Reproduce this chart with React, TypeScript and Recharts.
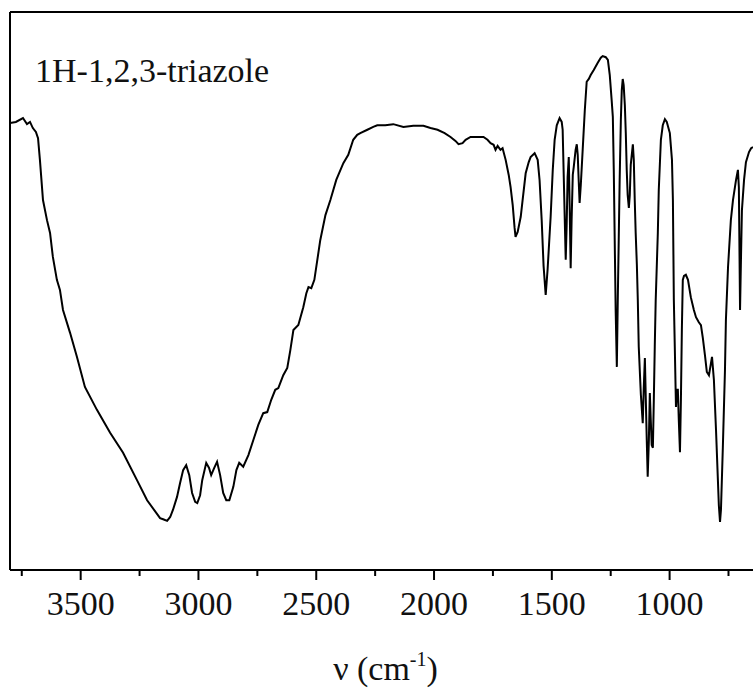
import { LineChart, Line, XAxis, YAxis, ReferenceLine } from "recharts";

// wavenumber (cm-1), high to low
const wavenumbers = [
  3800, 3775, 3745, 3728, 3715, 3703, 3690, 3681, 3673, 3660, 3643, 3630, 3618, 3601, 3588, 3575,
  3545, 3516, 3482, 3431, 3375, 3320, 3261, 3218, 3163, 3150, 3133, 3120, 3108, 3091, 3078, 3065,
  3052, 3039, 3027, 3014, 3005, 2993, 2984, 2967, 2955, 2946, 2933, 2921, 2908, 2895, 2882, 2869,
  2852, 2839, 2827, 2810, 2788, 2767, 2746, 2725, 2708, 2691, 2674, 2661, 2640, 2623, 2610, 2597,
  2576, 2555, 2542, 2533, 2521, 2508, 2483, 2461, 2440, 2415, 2385, 2364, 2343, 2326, 2313, 2283,
  2258, 2241, 2207, 2173, 2130, 2088, 2045, 2015, 1985, 1955, 1930, 1909, 1896, 1879, 1866, 1845,
  1820, 1790, 1773, 1760, 1747, 1739, 1730, 1718, 1709, 1696, 1683, 1675, 1666, 1658, 1654, 1645,
  1632, 1624, 1611, 1598, 1590, 1573, 1560, 1552, 1543, 1535, 1526, 1518, 1505, 1496, 1488, 1479,
  1467, 1458, 1454, 1450, 1445, 1441, 1437, 1433, 1428, 1424, 1420, 1416, 1411, 1407, 1399, 1394,
  1390, 1386, 1382, 1377, 1369, 1360, 1352, 1343, 1335, 1322, 1305, 1292, 1284, 1271, 1262, 1254,
  1246, 1241, 1237, 1233, 1229, 1224, 1220, 1216, 1212, 1207, 1203, 1199, 1195, 1190, 1186, 1182,
  1178, 1173, 1169, 1165, 1156, 1152, 1148, 1144, 1139, 1135, 1131, 1122, 1114, 1110, 1105, 1101,
  1097, 1093, 1088, 1084, 1080, 1076, 1071, 1067, 1063, 1059, 1050, 1046, 1037, 1029, 1020, 1012,
  999, 990, 986, 982, 978, 973, 969, 965, 961, 956, 952, 948, 944, 939, 931, 922,
  910, 897, 888, 876, 867, 859, 850, 842, 833, 820, 812, 803, 795, 791, 786, 782,
  774, 765, 761, 752, 740, 731, 718, 710, 706, 701, 697, 693, 684, 676, 663, 654,
  646,
];

// transmittance (a.u.)
const transmittance = [
  80.1, 80.3, 81.0, 79.9, 80.3, 79.2, 78.5, 77.4, 73.5, 66.3, 62.7, 60.4, 56.1, 52.0, 50.2, 46.6,
  42.5, 38.2, 32.8, 28.7, 24.6, 21.0, 16.1, 12.5, 9.3, 9.1, 8.8, 9.5, 10.8, 13.1, 15.6, 17.9,
  18.8, 17.0, 13.8, 12.2, 12.0, 13.4, 16.1, 19.2, 18.3, 17.0, 18.3, 19.4, 17.0, 13.8, 12.5, 12.5,
  14.9, 17.9, 19.2, 18.5, 20.6, 23.3, 26.0, 28.1, 28.3, 30.5, 32.3, 32.6, 34.9, 36.2, 39.4, 43.0,
  43.9, 47.1, 49.6, 50.7, 50.5, 52.0, 59.1, 63.6, 66.3, 69.9, 72.9, 74.4, 77.1, 78.0, 78.3, 78.9,
  79.4, 79.7, 79.7, 79.9, 79.4, 79.6, 79.6, 79.2, 78.9, 78.3, 77.6, 76.9, 76.3, 76.5, 77.1, 77.6,
  77.6, 77.6, 77.1, 76.5, 76.2, 75.3, 76.0, 75.3, 75.6, 73.5, 70.8, 68.6, 65.4, 61.3, 59.7, 60.6,
  63.3, 66.3, 71.1, 73.1, 74.0, 74.7, 73.5, 69.9, 62.7, 54.5, 49.3, 53.8, 63.3, 71.7, 77.1, 79.7,
  81.0, 80.3, 78.9, 71.7, 62.7, 55.6, 61.8, 70.4, 74.0, 64.5, 54.1, 62.7, 70.8, 72.2, 75.3, 76.3,
  74.4, 69.9, 65.8, 69.0, 75.3, 82.4, 87.5, 88.0, 88.7, 89.6, 90.9, 91.8, 92.1, 91.9, 91.4, 88.7,
  84.2, 81.2, 71.7, 59.1, 46.6, 36.4, 48.4, 59.1, 69.9, 80.6, 86.0, 88.0, 86.9, 83.3, 78.3, 71.7,
  67.2, 64.9, 67.2, 72.6, 76.3, 73.5, 66.3, 60.4, 54.7, 48.4, 40.0, 31.4, 26.3, 32.3, 38.0, 30.5,
  23.3, 16.7, 23.3, 31.7, 26.9, 22.4, 21.9, 30.5, 40.0, 48.4, 60.4, 68.1, 77.1, 79.7, 80.8, 80.3,
  78.3, 73.5, 66.3, 48.4, 40.0, 29.2, 32.3, 32.3, 26.9, 21.1, 30.5, 43.0, 52.0, 52.7, 52.9, 52.0,
  48.9, 46.6, 45.3, 44.4, 43.9, 41.6, 38.5, 35.5, 34.9, 38.2, 34.1, 25.1, 16.1, 11.6, 8.6, 10.8,
  22.0, 35.8, 44.8, 54.3, 62.7, 66.3, 69.9, 71.7, 68.6, 46.6, 55.9, 64.5, 69.9, 73.1, 74.9, 75.6,
  75.8,
];

const xTicks = [3750, 3500, 3250, 3000, 2750, 2500, 2250, 2000, 1750, 1500, 1250, 1000, 750];
const majorTicks = [3500, 3000, 2500, 2000, 1500, 1000];

const sampleName = "1H-1,2,3-triazole";

const data = wavenumbers.map((w, i) => ({ w, t: transmittance[i] }));

const FONT = '"Liberation Serif", "Times New Roman", serif';

function AxisTick(props: any) {
  const { x, y, payload } = props;
  const major = majorTicks.includes(payload.value);
  return (
    <g>
      <line x1={x} y1={y} x2={x} y2={y + (major ? 10 : 6)} stroke="#000" strokeWidth={2} />
      {major && (
        <text x={x} y={y + 45} textAnchor="middle" fontFamily={FONT} fontSize={34} fill="#111">
          {payload.value}
        </text>
      )}
    </g>
  );
}

function AxisTitle(props: any) {
  const vb = props.viewBox || { x: 10, y: 570, width: 743 };
  const cx = vb.x + vb.width / 2 + 4;
  return (
    <text x={cx} y={vb.y + 110} textAnchor="middle" fontFamily={FONT} fontSize={34} fill="#111">
      ν (cm
      <tspan fontSize={20} dy={-14}>-1</tspan>
      <tspan dy={14}>)</tspan>
    </text>
  );
}

export default function App() {
  return (
    <div style={{ position: "absolute", left: 0, top: 0, width: 753, height: 690, background: "#fff" }}>
      <LineChart width={753} height={690} data={data} margin={{ top: 12, right: 0, left: 10, bottom: 0 }}>
        <XAxis
          dataKey="w"
          type="number"
          domain={[646, 3800]}
          reversed
          allowDataOverflow
          ticks={xTicks}
          interval={0}
          tick={<AxisTick />}
          tickLine={false}
          tickSize={0}
          tickMargin={0}
          height={120}
          axisLine={{ stroke: "#000", strokeWidth: 2 }}
          label={<AxisTitle />}
        />
        <YAxis hide domain={[0, 100]} type="number" allowDataOverflow />
        <ReferenceLine y={100} stroke="#000" strokeWidth={2} />
        <ReferenceLine x={3800} stroke="#000" strokeWidth={2} />
        <Line
          type="linear"
          dataKey="t"
          stroke="#000"
          strokeWidth={2}
          dot={false}
          isAnimationActive={false}
        />
      </LineChart>
      <div
        style={{
          position: "absolute",
          left: 35,
          top: 54,
          fontFamily: FONT,
          fontSize: 34,
          lineHeight: 1,
          color: "#111",
          whiteSpace: "nowrap",
        }}
      >
        {sampleName}
      </div>
    </div>
  );
}
